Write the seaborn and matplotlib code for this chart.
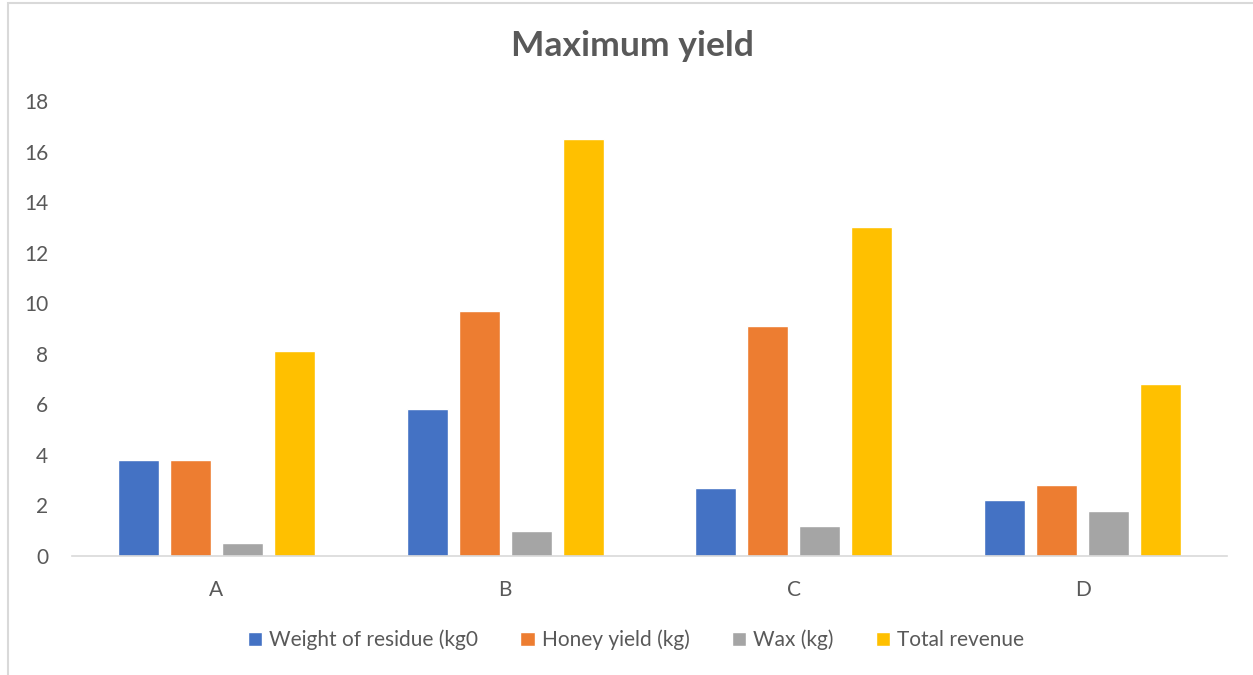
import matplotlib
matplotlib.use("Agg")
import matplotlib.pyplot as plt
from matplotlib.patches import Rectangle
import seaborn as sns
import pandas as pd

# Chart data
categories = ["A", "B", "C", "D"]
series_names = ["Weight of residue (kg0", "Honey yield (kg)", "Wax (kg)", "Total revenue"]
weight_residue = [3.8, 5.8, 2.7, 2.2]
honey_yield = [3.8, 9.7, 9.1, 2.8]
wax = [0.5, 1.0, 1.2, 1.8]
total_revenue = [8.1, 16.5, 13.0, 6.8]
y_ticks = [0, 2, 4, 6, 8, 10, 12, 14, 16, 18]

colors = ["#4472C4", "#ED7D31", "#A5A5A5", "#FFC000"]
text_color = "#595959"
line_color = "#D9D9D9"

rows = []
for name, vals in zip(series_names, [weight_residue, honey_yield, wax, total_revenue]):
    for cat, v in zip(categories, vals):
        rows.append({"category": cat, "series": name, "value": v})
df = pd.DataFrame(rows)

sns.set_theme(style="white")
plt.rcParams["font.family"] = ["Lato", "DejaVu Sans"]

W, H = 1253, 675
fig = plt.figure(figsize=(W / 100, H / 100), dpi=100)
ax = fig.add_axes([72 / W, 1 - 556 / H, (1227 - 72) / W, (556 - 101) / H])

sns.barplot(data=df, x="category", y="value", hue="series", order=categories,
            hue_order=series_names, palette=colors, width=0.72, gap=0.21,
            saturation=1, errorbar=None, ax=ax, legend=True)

ax.set_ylim(0, 18)
ax.set_xlim(-0.5, 3.5)
ax.set_yticks(y_ticks)
ax.set_xlabel("")
ax.set_ylabel("")
for s in ["top", "right", "left"]:
    ax.spines[s].set_visible(False)
ax.spines["bottom"].set_color(line_color)
ax.spines["bottom"].set_linewidth(1.2)
ax.tick_params(axis="y", length=0, pad=17, labelsize=15, labelcolor=text_color)
ax.tick_params(axis="x", length=0, pad=17, labelsize=15, labelcolor=text_color)

fig.text(632 / W, 1 - 46 / H, "Maximum yield", fontsize=25.5, fontweight="bold",
         color=text_color, ha="center", va="center")

handles, labels = ax.get_legend_handles_labels()
ax.get_legend().remove()
fig.legend(handles, labels, loc="center", bbox_to_anchor=(636 / W, 1 - 640 / H),
           ncol=4, frameon=False, fontsize=15, labelcolor=text_color,
           handlelength=0.7, handleheight=0.7, handletextpad=0.35,
           columnspacing=2.0)

# Outer chart frame
fig.add_artist(Rectangle((8 / W, -0.1), 1.2, 1.1 - 3 / H, transform=fig.transFigure,
                         fill=False, edgecolor=line_color, linewidth=1.5))

fig.savefig("out.png", dpi=100, facecolor="white")
